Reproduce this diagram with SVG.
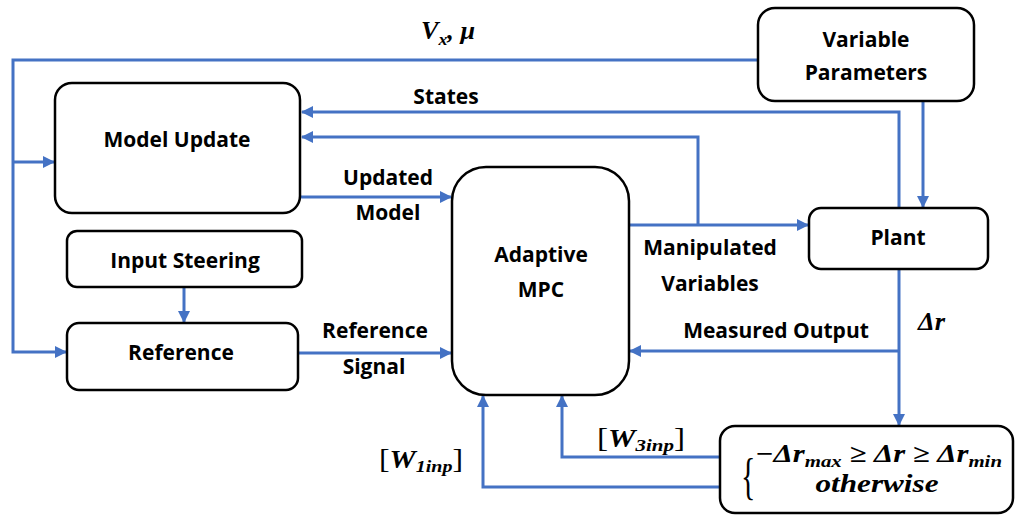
<svg xmlns="http://www.w3.org/2000/svg" width="1016" height="515" viewBox="0 0 1016 515">
<style>
.box{fill:#fff;stroke:#000;stroke-width:2.5}
.ln{fill:none;stroke:#4472C4;stroke-width:3}
.t{font-family:"Open Sans","Liberation Sans",sans-serif;font-weight:bold;font-size:21px;fill:#000;text-anchor:middle}
.m{font-family:"Liberation Serif","DejaVu Serif",serif;font-weight:bold;font-style:italic;fill:#000}
.br{font-family:"Liberation Serif","DejaVu Serif",serif;font-weight:normal;font-style:normal}
</style>
<defs>
<marker id="ah" markerUnits="userSpaceOnUse" markerWidth="12" markerHeight="12" refX="11" refY="6" orient="auto">
<path d="M0,0 L12,6 L0,12 Z" fill="#4472C4"/>
</marker>
</defs>
<rect width="1016" height="515" fill="#fff"/>
<g id="connectors">
<path class="ln" d="M758,60 H13 V352 H66" marker-end="url(#ah)"/>
<path class="ln" d="M13,162 H54" marker-end="url(#ah)"/>
<path class="ln" d="M899,208 V112 H302" marker-end="url(#ah)"/>
<path class="ln" d="M698,225 V137 H302" marker-end="url(#ah)"/>
<path class="ln" d="M300,197 H451" marker-end="url(#ah)"/>
<path class="ln" d="M184,287 V322" marker-end="url(#ah)"/>
<path class="ln" d="M298,353 H451" marker-end="url(#ah)"/>
<path class="ln" d="M629,225 H808" marker-end="url(#ah)"/>
<path class="ln" d="M923,101 V207" marker-end="url(#ah)"/>
<path class="ln" d="M899,269 V425" marker-end="url(#ah)"/>
<path class="ln" d="M899,351 H630" marker-end="url(#ah)"/>
<path class="ln" d="M720,457 H562 V396" marker-end="url(#ah)"/>
<path class="ln" d="M720,487 H483 V396" marker-end="url(#ah)"/>
</g>
<g id="labels">
<text class="m" x="421" y="39" font-size="25" textLength="54" lengthAdjust="spacingAndGlyphs">V<tspan font-size="17" dy="6">x</tspan><tspan dy="-6">, μ</tspan></text>
<text class="t" x="446" y="104">States</text>
<text class="t" x="388" y="185">Updated</text>
<text class="t" x="388" y="220">Model</text>
<text class="t" x="375" y="338">Reference</text>
<text class="t" x="374" y="374">Signal</text>
<text class="t" x="710" y="255">Manipulated</text>
<text class="t" x="710" y="291">Variables</text>
<text class="t" x="776" y="338">Measured Output</text>
<text class="m" x="918" y="330" font-size="25" textLength="27" lengthAdjust="spacingAndGlyphs">Δr</text>
<text class="m" x="597" y="447" font-size="25" textLength="88" lengthAdjust="spacingAndGlyphs"><tspan class="br" font-size="27">[</tspan>W<tspan font-size="17" dy="4">3inp</tspan><tspan class="br" dy="-4" font-size="27">]</tspan></text>
<text class="m" x="379" y="468" font-size="25" textLength="84" lengthAdjust="spacingAndGlyphs"><tspan class="br" font-size="27">[</tspan>W<tspan font-size="17" dy="4">1inp</tspan><tspan class="br" dy="-4" font-size="27">]</tspan></text>
</g>
<g id="variable-parameters">
<rect class="box" x="758" y="8" width="216" height="93" rx="17"/>
<text class="t" x="866" y="47">Variable</text>
<text class="t" x="866" y="80">Parameters</text>
</g>
<g id="model-update">
<rect class="box" x="55" y="83" width="245" height="130" rx="17"/>
<text class="t" x="177" y="147">Model Update</text>
</g>
<g id="input-steering">
<rect class="box" x="67" y="231" width="235" height="56" rx="10"/>
<text class="t" x="185" y="268">Input Steering</text>
</g>
<g id="reference">
<rect class="box" x="67" y="323" width="231" height="67" rx="12"/>
<text class="t" x="181" y="360">Reference</text>
</g>
<g id="adaptive-mpc">
<rect class="box" x="452" y="167" width="177" height="228" rx="34"/>
<text class="t" x="541" y="262">Adaptive</text>
<text class="t" x="541" y="297">MPC</text>
</g>
<g id="plant">
<rect class="box" x="809" y="208" width="179" height="61" rx="12"/>
<text class="t" x="898" y="245">Plant</text>
</g>
<g id="constraint">
<rect class="box" x="720" y="426" width="293" height="87" rx="15"/>
<text class="br" x="741" y="493" font-size="50" transform="translate(741,0) scale(0.6,1) translate(-741,0)">{</text>
<text class="m" x="755" y="462" font-size="25" textLength="247" lengthAdjust="spacingAndGlyphs">−Δr<tspan font-size="17" dy="5">max</tspan><tspan dy="-5"> ≥ Δr ≥ Δr</tspan><tspan font-size="17" dy="5">min</tspan></text>
<text class="m" x="877" y="492" font-size="25" text-anchor="middle" textLength="123" lengthAdjust="spacingAndGlyphs">otherwise</text>
</g>
</svg>
